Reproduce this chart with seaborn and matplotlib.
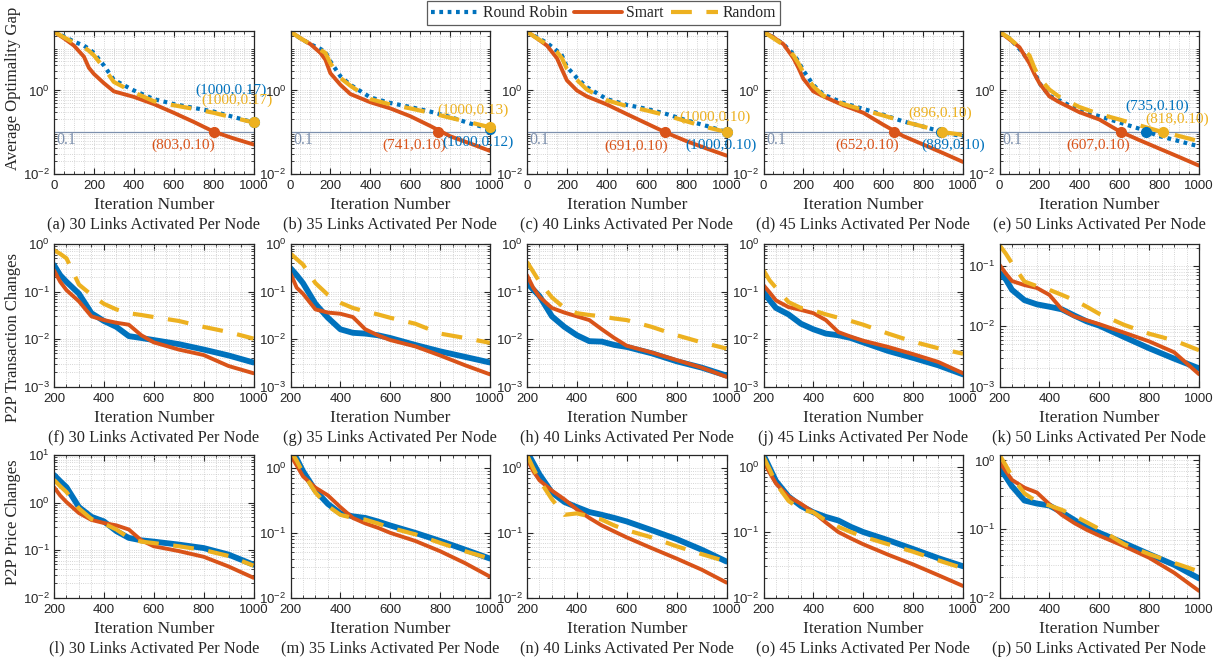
import numpy as np
import pandas as pd
import matplotlib
matplotlib.use("Agg")
import matplotlib.pyplot as plt
import matplotlib.ticker as mticker
from matplotlib.lines import Line2D
import seaborn as sns

sns.set_style("ticks")
plt.rcParams["font.family"] = ["Liberation Serif", "DejaVu Serif"]

# ---------------- data ----------------
ITER_GAP = [0, 50, 100, 150, 175, 200, 250, 300, 400, 500, 600, 700, 800, 900, 1000]
ITER_P2P = [200, 225, 250, 300, 350, 400, 450, 500, 550, 600, 700, 800, 900, 1000]

# Row 1: Average Optimality Gap
gap_a_rr  = [26, 20, 15, 12, 10, 8, 4, 1.8, 1.0, 0.62, 0.47, 0.38, 0.31, 0.23, 0.17]
gap_a_sm  = [26, 18, 12, 6.5, 3.5, 2.5, 1.5, 0.95, 0.70, 0.47, 0.29, 0.175, 0.102, 0.07, 0.05]
gap_a_rnd = [26, 19, 14, 11, 9, 7, 3.5, 1.6, 0.9, 0.55, 0.44, 0.36, 0.29, 0.22, 0.17]

gap_b_rr  = [26, 18, 13, 10, 8.5, 5, 2.2, 1.37, 0.68, 0.5, 0.4, 0.31, 0.23, 0.16, 0.12]
gap_b_sm  = [26, 18, 13, 8, 5.5, 2.6, 1.37, 0.82, 0.52, 0.37, 0.24, 0.14, 0.079, 0.053, 0.035]
gap_b_rnd = [26, 18, 13, 9.5, 8, 4.5, 2.0, 1.3, 0.62, 0.46, 0.37, 0.29, 0.22, 0.17, 0.13]

gap_c_rr  = [26, 19, 14, 9, 7, 3.7, 2.0, 1.2, 0.62, 0.45, 0.36, 0.27, 0.19, 0.14, 0.10]
gap_c_sm  = [26, 18, 12, 6, 3.2, 1.75, 1.0, 0.72, 0.46, 0.27, 0.16, 0.095, 0.06, 0.04, 0.027]
gap_c_rnd = [26, 18, 13, 8.5, 6, 3.3, 1.8, 1.05, 0.58, 0.42, 0.33, 0.25, 0.18, 0.13, 0.10]

gap_d_rr  = [26, 19, 13, 7.5, 5, 3.0, 1.35, 0.8, 0.5, 0.36, 0.26, 0.18, 0.135, 0.099, 0.078]
gap_d_sm  = [26, 19, 13, 6, 3.5, 1.9, 0.95, 0.72, 0.44, 0.29, 0.15, 0.08, 0.05, 0.031, 0.019]
gap_d_rnd = [26, 18, 12.5, 7, 4.5, 2.7, 1.25, 0.75, 0.47, 0.34, 0.25, 0.18, 0.135, 0.099, 0.085]

gap_e_rr  = [26, 18, 10, 5, 2.8, 1.5, 0.74, 0.58, 0.33, 0.24, 0.17, 0.12, 0.08, 0.06, 0.045]
gap_e_sm  = [26, 17, 11, 4.5, 2.5, 1.5, 0.72, 0.52, 0.3, 0.2, 0.105, 0.064, 0.04, 0.025, 0.0155]
gap_e_rnd = [26, 18, 11, 7, 3.5, 2.0, 1.05, 0.7, 0.4, 0.27, 0.2, 0.145, 0.105, 0.08, 0.06]

# Row 2: P2P Transaction Changes
trx_f_rr  = [0.36, 0.22, 0.16, 0.09, 0.035, 0.024, 0.018, 0.0115, 0.0105, 0.0095, 0.0078, 0.006, 0.0045, 0.0032]
trx_f_sm  = [0.28, 0.16, 0.107, 0.062, 0.03, 0.025, 0.022, 0.020, 0.012, 0.0085, 0.006, 0.0046, 0.0027, 0.0019]
trx_f_rnd = [0.74, 0.62, 0.5, 0.14, 0.085, 0.055, 0.042, 0.035, 0.032, 0.029, 0.024, 0.018, 0.014, 0.0102]

trx_g_rr  = [0.31, 0.22, 0.15, 0.055, 0.028, 0.016, 0.0135, 0.013, 0.012, 0.0105, 0.0075, 0.0055, 0.0042, 0.0032]
trx_g_sm  = [0.24, 0.12, 0.09, 0.042, 0.036, 0.034, 0.029, 0.016, 0.012, 0.0095, 0.007, 0.0045, 0.0028, 0.0018]
trx_g_rnd = [0.63, 0.48, 0.37, 0.15, 0.085, 0.058, 0.045, 0.038, 0.033, 0.028, 0.021, 0.013, 0.0105, 0.0083]

trx_h_rr  = [0.15, 0.11, 0.08, 0.03, 0.018, 0.012, 0.009, 0.0088, 0.0075, 0.0068, 0.005, 0.0034, 0.0025, 0.0017]
trx_h_sm  = [0.22, 0.12, 0.077, 0.045, 0.036, 0.03, 0.025, 0.016, 0.0105, 0.0072, 0.0052, 0.0036, 0.0025, 0.0016]
trx_h_rnd = [0.42, 0.26, 0.16, 0.075, 0.045, 0.035, 0.032, 0.03, 0.027, 0.025, 0.018, 0.012, 0.0085, 0.0063]

trx_j_rr  = [0.1, 0.065, 0.045, 0.033, 0.021, 0.016, 0.013, 0.012, 0.0105, 0.0085, 0.0056, 0.004, 0.0028, 0.0018]
trx_j_sm  = [0.136, 0.095, 0.065, 0.047, 0.041, 0.035, 0.025, 0.014, 0.0112, 0.0092, 0.0068, 0.0048, 0.0033, 0.0019]
trx_j_rnd = [0.28, 0.17, 0.12, 0.06, 0.045, 0.04, 0.033, 0.028, 0.024, 0.02, 0.013, 0.0088, 0.0064, 0.0049]

trx_k_rr  = [0.076, 0.06, 0.04, 0.027, 0.023, 0.021, 0.019, 0.015, 0.012, 0.0102, 0.0066, 0.0043, 0.0029, 0.002]
trx_k_sm  = [0.104, 0.075, 0.056, 0.048, 0.043, 0.033, 0.019, 0.0145, 0.0125, 0.0108, 0.0078, 0.0056, 0.0037, 0.0016]
trx_k_rnd = [0.22, 0.16, 0.11, 0.055, 0.046, 0.04, 0.033, 0.027, 0.021, 0.016, 0.0105, 0.0075, 0.0058, 0.004]

# Row 3: P2P Price Changes
prc_l_rr  = [3.8, 2.8, 2.1, 0.8, 0.5, 0.4, 0.25, 0.18, 0.16, 0.15, 0.13, 0.11, 0.08, 0.049]
prc_l_sm  = [2.1, 1.4, 1.02, 0.6, 0.43, 0.37, 0.33, 0.27, 0.16, 0.12, 0.095, 0.072, 0.045, 0.026]
prc_l_rnd = [3.0, 2.2, 1.66, 0.75, 0.45, 0.36, 0.27, 0.18, 0.15, 0.14, 0.12, 0.1, 0.075, 0.047]

prc_m_rr  = [2.0, 1.4, 0.9, 0.45, 0.28, 0.2, 0.18, 0.17, 0.15, 0.13, 0.1, 0.075, 0.055, 0.04]
prc_m_sm  = [1.6, 1.1, 0.75, 0.5, 0.38, 0.25, 0.17, 0.14, 0.12, 0.1, 0.075, 0.052, 0.034, 0.021]
prc_m_rnd = [1.9, 1.3, 0.85, 0.42, 0.26, 0.19, 0.17, 0.16, 0.14, 0.12, 0.095, 0.07, 0.052, 0.04]

prc_n_rr  = [1.8, 1.2, 0.8, 0.42, 0.3, 0.25, 0.21, 0.19, 0.17, 0.15, 0.11, 0.08, 0.055, 0.036]
prc_n_sm  = [1.4, 0.9, 0.65, 0.45, 0.33, 0.23, 0.17, 0.13, 0.105, 0.085, 0.058, 0.04, 0.027, 0.017]
prc_n_rnd = [1.6, 1.0, 0.65, 0.33, 0.19, 0.2, 0.18, 0.16, 0.13, 0.11, 0.085, 0.062, 0.047, 0.036]

prc_o_rr  = [1.5, 0.95, 0.6, 0.35, 0.25, 0.2, 0.17, 0.15, 0.12, 0.1, 0.075, 0.055, 0.04, 0.03]
prc_o_sm  = [1.2, 0.8, 0.55, 0.35, 0.27, 0.2, 0.14, 0.1, 0.08, 0.065, 0.045, 0.032, 0.022, 0.015]
prc_o_rnd = [1.4, 0.9, 0.55, 0.3, 0.22, 0.2, 0.15, 0.12, 0.1, 0.085, 0.065, 0.05, 0.037, 0.028]

prc_p_rr  = [0.76, 0.58, 0.42, 0.26, 0.235, 0.22, 0.175, 0.135, 0.105, 0.088, 0.062, 0.043, 0.03, 0.019]
prc_p_sm  = [0.95, 0.7, 0.52, 0.4, 0.34, 0.23, 0.16, 0.122, 0.097, 0.08, 0.056, 0.038, 0.023, 0.0125]
prc_p_rnd = [1.2, 0.85, 0.58, 0.33, 0.25, 0.22, 0.19, 0.155, 0.125, 0.1, 0.06, 0.043, 0.032, 0.024]

LINKS = [30, 35, 40, 45, 50]
LETTERS = [["a", "b", "c", "d", "e"], ["f", "g", "h", "j", "k"], ["l", "m", "n", "o", "p"]]
ROW_YLABELS = ["Average Optimality Gap", "P2P Transaction Changes", "P2P Price Changes"]
SERIES = ["Round Robin", "Smart", "Random"]

# threshold-crossing annotations in row 1: (iteration, value) per panel
SMART_HIT = [(803, 0.10), (741, 0.10), (691, 0.10), (652, 0.10), (607, 0.10)]
RR_HIT = [(1000, 0.17), (1000, 0.12), (1000, 0.10), (889, 0.10), (735, 0.10)]
RND_HIT = [(1000, 0.17), (1000, 0.13), (1000, 0.10), (896, 0.10), (818, 0.10)]
THRESHOLD = 0.1

row_data = [
    [(gap_a_rr, gap_a_sm, gap_a_rnd), (gap_b_rr, gap_b_sm, gap_b_rnd), (gap_c_rr, gap_c_sm, gap_c_rnd),
     (gap_d_rr, gap_d_sm, gap_d_rnd), (gap_e_rr, gap_e_sm, gap_e_rnd)],
    [(trx_f_rr, trx_f_sm, trx_f_rnd), (trx_g_rr, trx_g_sm, trx_g_rnd), (trx_h_rr, trx_h_sm, trx_h_rnd),
     (trx_j_rr, trx_j_sm, trx_j_rnd), (trx_k_rr, trx_k_sm, trx_k_rnd)],
    [(prc_l_rr, prc_l_sm, prc_l_rnd), (prc_m_rr, prc_m_sm, prc_m_rnd), (prc_n_rr, prc_n_sm, prc_n_rnd),
     (prc_o_rr, prc_o_sm, prc_o_rnd), (prc_p_rr, prc_p_sm, prc_p_rnd)],
]
row_iters = [ITER_GAP, ITER_P2P, ITER_P2P]

# ---------------- style ----------------
C_RR = "#0072BD"
C_SM = "#D95319"
C_RND = "#EDB120"
C_THR = "#7d90ad"

W, H = 1222, 661
fig = plt.figure(figsize=(W / 100, H / 100), dpi=100)

col_left = [54, 290.5, 527, 763.5, 999.5]
ax_w = 199.5
row_top = [31, 244, 455]
ax_h = 142.5

ylims = [
    [(0.01, 27)] * 5,
    [(1e-3, 1.0), (1e-3, 1.0), (1e-3, 1.0), (1e-3, 1.0), (1e-3, 0.23)],
    [(0.01, 10), (0.01, 1.6), (0.01, 1.6), (0.01, 1.5), (0.01, 1.2)],
]
ylabel_pos = [0.6, 0.345, 0.53]

smart_off = [(-31, -13), (-24, -13), (-29, -14), (-26, -13), (-22, -13)]
rr_off = [(-22, 32), (-12, -14), (-5, -13), (12, -13), (11, 26)]
rnd_off = [(-17, 22), (-17, 17), (-12, 15), (-2, 19), (14, 13)]

for r in range(3):
    for c in range(5):
        l = col_left[c]
        t = row_top[r]
        ax = fig.add_axes([l / W, 1 - (t + ax_h) / H, ax_w / W, ax_h / H])
        rr, sm, rnd = row_data[r][c]
        it = row_iters[r]
        df = pd.DataFrame({"iter": it, "rr": rr, "sm": sm, "rnd": rnd})
        if r == 0:
            sns.lineplot(data=df, x="iter", y="rr", ax=ax, color=C_RR, lw=3.0,
                         linestyle=(0, (0.9, 1.1)), dash_capstyle="butt", sort=False)
        else:
            sns.lineplot(data=df, x="iter", y="rr", ax=ax, color=C_RR, lw=4.2, sort=False)
        sns.lineplot(data=df, x="iter", y="sm", ax=ax, color=C_SM, lw=2.8, sort=False)
        sns.lineplot(data=df, x="iter", y="rnd", ax=ax, color=C_RND, lw=3.0,
                     linestyle=(0, (5, 3.5)), dash_capstyle="butt", sort=False)
        ax.set_yscale("log")
        ax.set_ylim(*ylims[r][c])
        if r == 0:
            ax.set_xlim(0, 1000)
            ax.set_xticks([0, 200, 400, 600, 800, 1000])
            ax.set_yticks([1e-2, 1e0])
        else:
            ax.set_xlim(200, 1000)
            ax.set_xticks([200, 400, 600, 800, 1000])
            ax.yaxis.set_major_locator(mticker.LogLocator(base=10, numticks=10))
        ax.xaxis.set_minor_locator(mticker.MultipleLocator(50))
        ax.yaxis.set_minor_locator(mticker.LogLocator(base=10, subs=np.arange(1, 10), numticks=30))
        ax.yaxis.set_minor_formatter(mticker.NullFormatter())
        ax.grid(True, which="both", linestyle=":", color="#c8c8c8", lw=0.6)
        ax.set_axisbelow(True)
        ax.tick_params(which="both", direction="in", top=True, right=True,
                       labelsize=9.5, labelfontfamily="Liberation Sans")
        ax.tick_params(axis="x", which="major", pad=5)
        ax.tick_params(axis="y", which="major", pad=3)
        ax.tick_params(which="major", length=4, width=0.8)
        ax.tick_params(which="minor", length=2, width=0.6)
        for s in ax.spines.values():
            s.set_linewidth(0.9)
        ax.set_xlabel("Iteration Number", fontsize=12.5, labelpad=3)
        if c == 0:
            ax.set_ylabel(ROW_YLABELS[r], fontsize=12)
            ax.yaxis.set_label_coords(-0.165, ylabel_pos[r])
        else:
            ax.set_ylabel("")
        ax.text(0.5, -0.36, f"({LETTERS[r][c]}) {LINKS[c]} Links Activated Per Node",
                transform=ax.transAxes, ha="center", va="center", fontsize=11.8)

        if r == 0:
            ax.axhline(THRESHOLD, color=C_THR, lw=0.9, zorder=1.5)
            ax.text(12, 0.063, "0.1", color=C_THR, fontsize=11.5, ha="left", va="center")
            sx, sy = SMART_HIT[c]
            bx, by = RR_HIT[c]
            yx, yy = RND_HIT[c]
            ax.plot([bx], [by], "o", color=C_RR, ms=7, clip_on=False, zorder=5)
            ax.plot([yx], [yy], "o", color=C_RND, ms=7, clip_on=False, zorder=6)
            ax.plot([sx], [sy], "o", color=C_SM, ms=7, clip_on=False, zorder=6)
            ax.annotate(f"({sx},{sy:.2f})", (sx, sy), xytext=smart_off[c], textcoords="offset pixels",
                        color=C_SM, fontsize=11, ha="center", va="center", annotation_clip=False)
            ax.annotate(f"({bx},{by:.2f})", (bx, by), xytext=rr_off[c], textcoords="offset pixels",
                        color=C_RR, fontsize=11, ha="center", va="center", annotation_clip=False)
            ax.annotate(f"({yx},{yy:.2f})", (yx, yy), xytext=rnd_off[c], textcoords="offset pixels",
                        color=C_RND, fontsize=11, ha="center", va="center", annotation_clip=False)

handles = [
    Line2D([0], [0], color=C_RR, lw=3.0, linestyle=(0, (0.9, 1.1)), dash_capstyle="butt"),
    Line2D([0], [0], color=C_SM, lw=2.8),
    Line2D([0], [0], color=C_RND, lw=3.0, linestyle=(0, (5, 3.5)), dash_capstyle="butt"),
]
leg = fig.legend(handles, SERIES, loc="center", bbox_to_anchor=(603.5 / W, 1 - 13 / H), ncol=3,
                 fontsize=11.3, frameon=True, fancybox=False, edgecolor="#333333",
                 handlelength=3.0, handletextpad=0.3, columnspacing=0.45, borderpad=0.25,
                 borderaxespad=0.2)
leg.get_frame().set_linewidth(0.9)

fig.savefig("out.png", dpi=100)
